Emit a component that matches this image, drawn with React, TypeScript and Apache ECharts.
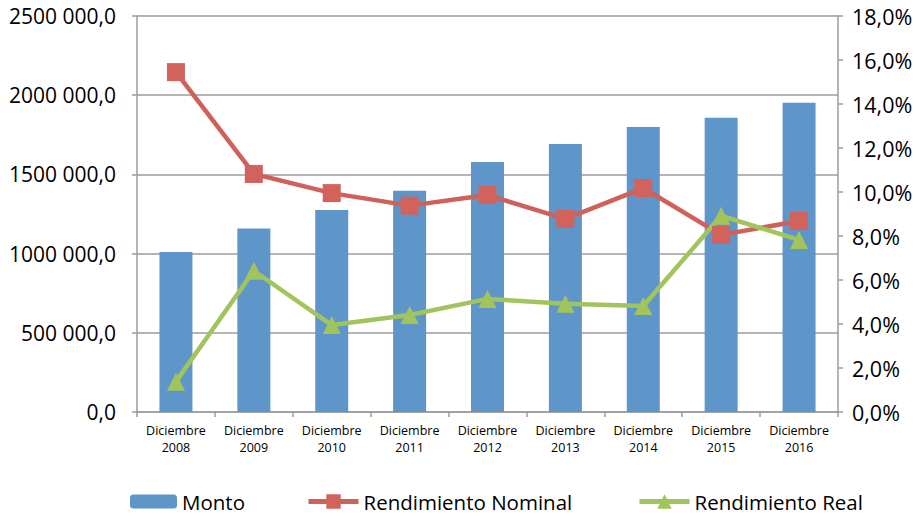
import React, { useEffect, useRef } from "react";
import * as echarts from "echarts";

const years = ["2008", "2009", "2010", "2011", "2012", "2013", "2014", "2015", "2016"];
const categories = years.map((y) => `Diciembre\n${y}`);
const monto = [1010000, 1158000, 1276000, 1396000, 1578000, 1692000, 1800000, 1857000, 1952000];
const rendNominal = [15.45, 10.82, 9.95, 9.38, 9.86, 8.78, 10.18, 8.05, 8.68];
const rendReal = [1.38, 6.42, 3.95, 4.41, 5.14, 4.92, 4.82, 8.92, 7.82];

const FONT = "'Open Sans', sans-serif";
const GRID = "#9d9d9d";

const fmtMonto = (v: number) => {
  const s = String(Math.round(v));
  const grouped = s.length > 3 ? `${s.slice(0, -3)} ${s.slice(-3)}` : s;
  return `${grouped},0`;
};
const fmtPct = (v: number) => `${v.toFixed(1).replace(".", ",")}%`;

export default function App() {
  const ref = useRef<HTMLDivElement>(null);

  useEffect(() => {
    if (!ref.current) return;
    const chart = echarts.init(ref.current, null, { renderer: "svg" });
    const legendText = { fontFamily: FONT, fontSize: 20.5, color: "#000" };
    chart.setOption({
      animation: false,
      backgroundColor: "#fff",
      grid: { left: 137, right: 84, top: 16, bottom: 104, containLabel: false },
      legend: [
        {
          data: ["Monto"],
          left: 130,
          top: 491,
          padding: 0,
          itemWidth: 47,
          itemHeight: 14,
          textStyle: legendText,
        },
        {
          data: ["Rendimiento Nominal"],
          left: 306,
          top: 491,
          padding: 0,
          itemWidth: 50,
          itemHeight: 18,
          lineStyle: { width: 5 },
          textStyle: legendText,
        },
        {
          data: ["Rendimiento Real"],
          left: 637,
          top: 491,
          padding: 0,
          itemWidth: 50,
          itemHeight: 18,
          lineStyle: { width: 5 },
          textStyle: legendText,
        },
      ],
      xAxis: {
        type: "category",
        data: categories,
        boundaryGap: true,
        axisLine: { lineStyle: { color: GRID, width: 1.5 } },
        axisTick: { show: true, length: 5, alignWithLabel: false, lineStyle: { color: GRID, width: 1.5 } },
        axisLabel: {
          fontFamily: FONT,
          fontSize: 12.5,
          color: "#000",
          lineHeight: 17,
          margin: 10,
          interval: 0,
        },
      },
      yAxis: [
        {
          type: "value",
          min: 0,
          max: 2500000,
          interval: 500000,
          axisLine: { show: true, lineStyle: { color: GRID, width: 1.5 } },
          axisTick: { show: true, length: 5, lineStyle: { color: GRID, width: 1.5 } },
          splitLine: { show: true, lineStyle: { color: GRID, width: 1.5 } },
          axisLabel: { fontFamily: FONT, fontSize: 21, color: "#000", margin: 21, formatter: fmtMonto },
        },
        {
          type: "value",
          min: 0,
          max: 18,
          interval: 2,
          position: "right",
          axisLine: { show: true, lineStyle: { color: GRID, width: 1.5 } },
          axisTick: { show: true, length: 5, lineStyle: { color: GRID, width: 1.5 } },
          splitLine: { show: false },
          axisLabel: { fontFamily: FONT, fontSize: 21.5, color: "#000", margin: 14, formatter: fmtPct },
        },
      ],
      series: [
        {
          name: "Monto",
          type: "bar",
          data: monto,
          barWidth: 33,
          itemStyle: { color: "#5e96ca" },
        },
        {
          name: "Rendimiento Nominal",
          type: "line",
          yAxisIndex: 1,
          data: rendNominal,
          symbol: "rect",
          symbolSize: 18,
          lineStyle: { color: "#d0605a", width: 4.5 },
          itemStyle: { color: "#d2625c", borderWidth: 0 },
        },
        {
          name: "Rendimiento Real",
          type: "line",
          yAxisIndex: 1,
          data: rendReal,
          symbol: "triangle",
          symbolSize: 18,
          lineStyle: { color: "#a2c45c", width: 4.5 },
          itemStyle: { color: "#a2c45c", borderWidth: 0 },
        },
      ],
    });
    return () => chart.dispose();
  }, []);

  return <div ref={ref} style={{ width: 922, height: 516, position: "absolute", left: 0, top: 0 }} />;
}
